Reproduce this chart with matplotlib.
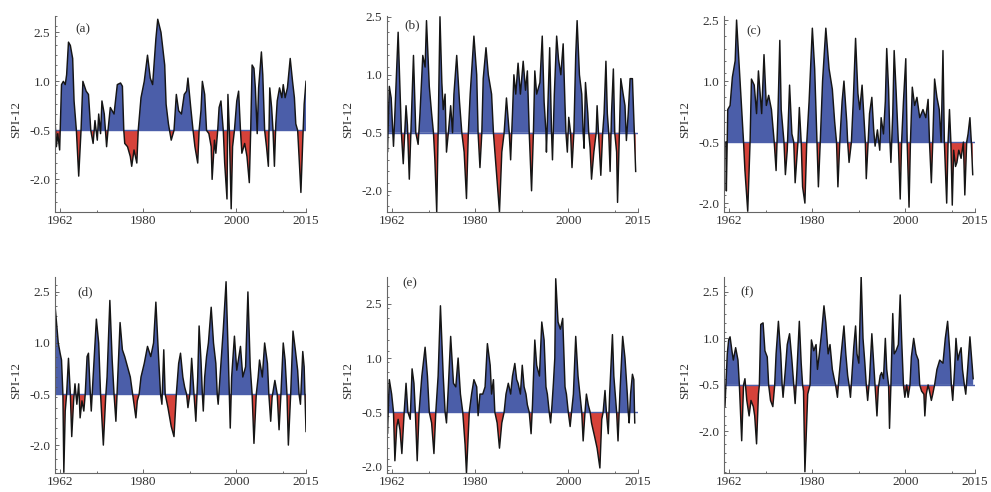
import numpy as np
import matplotlib
matplotlib.use("Agg")
import matplotlib.pyplot as plt
from matplotlib.ticker import MultipleLocator

plt.rcParams['font.family'] = ['Liberation Serif', 'DejaVu Serif']

# SPI-12 series (turning points)
a_years = [1961.0, 1961.3, 1961.6, 1962.0, 1962.4, 1962.8, 1963.2, 1963.5, 1963.9, 1964.3, 1964.8, 1965.1, 1965.6, 1966.1, 1966.6, 1967.0, 1967.7, 1968.2, 1968.7, 1969.2, 1969.6, 1970.1, 1970.4, 1970.8, 1971.1, 1971.6, 1972.1, 1972.4, 1972.9, 1973.7, 1974.4, 1975.1, 1975.5, 1975.8, 1976.0, 1976.6, 1977.2, 1977.5, 1978.0, 1978.6, 1978.9, 1979.5, 1980.2, 1980.9, 1981.5, 1982.0, 1982.7, 1983.1, 1983.8, 1984.6, 1984.9, 1985.4, 1986.0, 1986.6, 1987.1, 1987.6, 1988.2, 1988.8, 1989.3, 1989.6, 1990.2, 1990.7, 1991.1, 1991.7, 1992.0, 1992.4, 1992.7, 1993.2, 1993.6, 1994.1, 1994.6, 1994.8, 1995.3, 1995.6, 1996.0, 1996.3, 1996.7, 1997.2, 1997.5, 1998.0, 1998.2, 1998.5, 1998.9, 1999.2, 1999.6, 2000.1, 2000.5, 2000.9, 2001.2, 2001.8, 2002.3, 2002.8, 2003.1, 2003.4, 2003.8, 2004.1, 2004.5, 2004.8, 2005.4, 2005.7, 2006.1, 2006.5, 2006.9, 2007.2, 2007.6, 2007.9, 2008.2, 2008.5, 2008.8, 2009.3, 2009.8, 2010.1, 2010.5, 2011.0, 2011.6, 2012.1, 2012.5, 2012.8, 2013.2, 2013.5, 2013.9, 2014.3, 2014.6, 2015.0]
a_vals = [-0.2, -1.0, -0.6, -1.1, 0.9, 1.0, 0.9, 1.2, 2.2, 2.1, 1.7, 0.4, -0.5, -1.9, -0.5, 1.0, 0.7, 0.6, -0.5, -0.9, -0.2, -0.8, 0.0, -0.6, 0.4, 0.0, -1.0, -0.5, 0.2, 0.0, 0.9, 0.95, 0.85, -0.5, -0.9, -1.0, -1.3, -1.6, -1.1, -1.5, -0.5, 0.5, 1.0, 1.8, 1.1, 0.9, 2.3, 2.9, 2.5, 1.5, 0.3, -0.3, -0.8, -0.5, 0.6, 0.1, 0.0, 0.6, 0.7, 1.1, 0.2, -0.5, -1.0, -1.5, -0.5, 0.1, 1.0, 0.6, -0.5, -0.6, -1.0, -2.0, -0.8, -1.2, -0.5, 0.2, 0.4, -0.5, -1.5, -2.6, 0.6, -0.5, -2.9, -1.0, -0.5, 0.4, 0.7, -0.5, -1.2, -0.9, -1.3, -2.1, -0.5, 1.5, 1.4, 0.8, -0.6, 0.8, 1.9, 1.2, -0.5, -1.0, -1.6, 0.8, 0.2, -0.5, -1.6, -0.3, 0.4, 0.8, 0.5, 0.9, 0.5, 0.8, 1.7, 1.0, 0.5, -0.3, -0.5, -1.3, -2.4, -0.8, 0.3, 1.0]

b_years = [1961.0, 1961.1, 1961.5, 1961.9, 1962.4, 1962.7, 1963.4, 1964.1, 1964.5, 1965.1, 1965.4, 1965.8, 1966.7, 1967.2, 1967.7, 1968.1, 1968.7, 1969.2, 1969.5, 1970.1, 1970.6, 1971.0, 1971.3, 1971.7, 1972.0, 1972.4, 1972.8, 1973.1, 1973.5, 1973.8, 1974.2, 1974.7, 1975.1, 1975.4, 1976.0, 1976.6, 1977.1, 1977.6, 1978.1, 1978.5, 1978.9, 1979.7, 1980.3, 1980.6, 1981.0, 1981.4, 1981.7, 1982.3, 1982.8, 1983.5, 1983.9, 1984.4, 1985.2, 1985.7, 1986.2, 1986.7, 1987.3, 1987.6, 1988.0, 1988.3, 1988.7, 1989.2, 1989.7, 1990.3, 1990.8, 1991.2, 1991.6, 1992.1, 1992.5, 1992.8, 1993.2, 1993.9, 1994.4, 1994.8, 1995.2, 1995.3, 1995.7, 1996.0, 1996.4, 1996.6, 1997.0, 1997.5, 1997.9, 1998.4, 1998.9, 1999.3, 1999.5, 1999.8, 2000.1, 2000.5, 2000.8, 2001.2, 2001.6, 2001.9, 2002.4, 2002.9, 2003.2, 2003.4, 2003.7, 2004.2, 2004.4, 2004.7, 2005.0, 2005.5, 2006.0, 2006.2, 2006.5, 2007.0, 2007.4, 2007.7, 2008.1, 2008.4, 2008.7, 2009.0, 2009.3, 2009.7, 2010.0, 2010.4, 2010.6, 2011.0, 2011.3, 2011.8, 2012.2, 2012.5, 2012.9, 2013.3, 2013.8, 2014.2, 2014.5]
b_vals = [-0.5, -1.0, 0.7, 0.4, -0.85, 0.0, 2.1, -0.5, -1.3, 0.2, -0.3, -1.7, 1.5, -0.5, -0.8, 0.0, 1.5, 1.2, 2.4, 0.7, 0.0, -0.5, -1.2, -2.55, -0.5, 2.5, 0.8, 0.1, 0.5, -1.0, -0.5, 0.2, -0.5, 0.5, 1.5, 0.3, -0.5, -1.0, -2.2, -0.5, 0.5, 2.0, 1.0, -0.5, -1.4, -0.5, 0.9, 1.7, 1.0, 0.5, -0.5, -1.3, -2.55, -1.0, -0.5, 0.4, -0.5, -1.2, 0.0, 1.0, 0.5, 1.3, 0.5, 1.35, 0.6, 1.1, -0.5, -2.0, -0.5, 1.1, 0.5, 0.8, 2.0, 0.3, -0.5, -1.0, 0.5, 1.7, -0.5, -1.2, 0.5, 2.0, 1.4, 1.0, 1.8, 0.2, -0.5, -1.0, -0.1, -0.5, -1.4, -0.5, 1.5, 2.4, 1.0, 0.5, -0.5, -0.9, 0.8, 0.0, -0.5, -0.9, -1.7, -1.0, -0.5, 0.2, -0.5, -1.6, -0.5, 0.0, 1.35, 0.0, -0.5, -1.5, 0.0, 1.15, -0.5, -1.0, -2.3, -0.5, 0.9, 0.5, 0.2, -0.7, 0.0, 0.9, 0.9, -0.5, -1.5]

c_years = [1961.4, 1961.5, 1961.8, 1962.3, 1962.8, 1963.4, 1963.7, 1964.2, 1964.7, 1965.2, 1965.5, 1966.1, 1966.6, 1966.9, 1967.5, 1968.0, 1968.4, 1969.1, 1969.6, 1970.1, 1970.6, 1971.2, 1971.8, 1972.2, 1972.6, 1973.0, 1973.3, 1973.9, 1974.2, 1974.6, 1975.1, 1975.6, 1976.0, 1976.3, 1976.9, 1977.2, 1977.6, 1977.9, 1978.4, 1978.8, 1979.3, 1980.0, 1980.5, 1981.0, 1981.3, 1981.7, 1982.2, 1982.9, 1983.6, 1984.3, 1984.8, 1985.2, 1985.5, 1985.9, 1986.4, 1986.8, 1987.4, 1987.6, 1987.9, 1988.4, 1988.8, 1989.3, 1989.8, 1990.2, 1990.7, 1991.0, 1991.4, 1991.6, 1992.0, 1992.3, 1992.8, 1993.2, 1993.5, 1994.0, 1994.5, 1994.8, 1995.3, 1995.7, 1996.0, 1996.4, 1996.7, 1996.9, 1997.3, 1997.6, 1998.0, 1998.5, 1998.9, 1999.2, 1999.6, 2000.1, 2000.4, 2000.8, 2001.1, 2001.5, 2002.0, 2002.5, 2003.1, 2003.8, 2004.4, 2004.9, 2005.2, 2005.6, 2005.9, 2006.3, 2006.8, 2007.3, 2007.7, 2008.1, 2008.4, 2008.9, 2009.2, 2009.5, 2009.8, 2010.1, 2010.4, 2010.8, 2011.1, 2011.5, 2012.0, 2012.5, 2012.8, 2013.2, 2013.5, 2013.9, 2014.2, 2014.5]
c_vals = [-0.5, -1.7, 0.3, 0.4, 1.1, 1.5, 2.5, 1.5, 0.5, -0.5, -1.2, -2.2, -0.5, 1.05, 0.9, 0.2, 1.25, 0.2, 1.65, 0.4, 0.65, 0.3, -0.5, -1.2, 0.2, 2.0, 0.3, -0.5, -1.3, -0.7, 0.9, -0.3, -0.5, -1.5, -0.5, 0.35, -0.5, -1.6, -2.0, -0.5, 0.5, 2.3, 1.3, -0.5, -1.6, -0.5, 1.0, 2.3, 1.3, 0.8, 0.0, -0.5, -1.6, -0.5, 0.5, 1.0, 0.0, -0.5, -1.0, -0.5, 0.5, 2.05, 0.7, 0.3, 0.9, 0.3, -0.5, -1.4, -0.5, 0.2, 0.6, -0.2, -0.6, -0.2, -0.7, 0.1, -0.3, 0.5, 1.8, 0.8, -0.5, -1.0, 0.2, 1.75, 0.8, -0.5, -1.9, -0.5, 0.5, 1.55, -0.5, -2.1, -0.5, 0.85, 0.4, 0.6, 0.1, 0.3, 0.1, 0.55, -0.5, -1.5, -0.5, 1.05, 0.6, 0.3, -0.5, 1.75, -0.5, -2.0, -0.5, 0.3, -0.5, -2.05, -0.7, -1.1, -1.0, -0.7, -0.9, -0.5, -1.8, -0.5, -0.3, 0.1, -0.5, -1.3]

d_years = [1961.0, 1961.2, 1961.7, 1962.1, 1962.4, 1962.7, 1962.9, 1963.2, 1963.5, 1963.9, 1964.3, 1964.6, 1965.0, 1965.3, 1965.7, 1966.1, 1966.4, 1966.8, 1967.2, 1967.5, 1967.9, 1968.2, 1968.6, 1968.8, 1969.2, 1969.9, 1970.4, 1970.8, 1971.4, 1971.9, 1972.2, 1972.8, 1973.3, 1973.7, 1974.1, 1974.5, 1975.0, 1975.5, 1976.0, 1976.6, 1977.2, 1977.7, 1978.4, 1978.7, 1979.1, 1979.5, 1980.2, 1980.9, 1981.6, 1982.2, 1982.7, 1983.2, 1983.7, 1984.0, 1984.4, 1984.7, 1985.3, 1986.0, 1986.6, 1987.1, 1987.6, 1988.0, 1988.5, 1988.9, 1989.3, 1989.6, 1990.0, 1990.4, 1990.9, 1991.3, 1991.7, 1992.0, 1992.4, 1992.7, 1992.9, 1993.2, 1993.6, 1994.0, 1994.6, 1995.1, 1995.6, 1995.9, 1996.1, 1996.5, 1997.2, 1997.8, 1998.3, 1998.7, 1999.0, 1999.6, 2000.1, 2000.9, 2001.4, 2002.0, 2002.5, 2003.0, 2003.4, 2003.8, 2004.3, 2004.7, 2005.0, 2005.6, 2006.1, 2006.7, 2007.0, 2007.4, 2007.7, 2008.3, 2008.8, 2009.2, 2009.6, 2010.1, 2010.5, 2010.9, 2011.2, 2011.7, 2012.2, 2012.7, 2013.2, 2013.5, 2013.8, 2014.3, 2014.6, 2015.0]
d_vals = [2.1, 1.8, 1.0, 0.7, 0.5, -0.5, -2.8, -1.0, -0.5, 0.55, -0.5, -1.75, -0.7, -0.2, -0.8, -0.2, -1.2, -0.7, -1.0, -0.5, 0.6, 0.7, -0.5, -1.0, 0.0, 1.7, 1.0, -0.5, -2.0, -0.6, 0.0, 2.25, 0.5, -0.5, -1.3, 0.0, 1.6, 0.8, 0.6, 0.3, 0.0, -0.5, -1.2, -0.7, -0.5, 0.0, 0.4, 0.9, 0.6, 1.0, 2.2, 0.8, -0.5, -0.8, 0.8, -0.5, -0.9, -1.45, -1.75, -0.5, 0.4, 0.7, 0.0, -0.3, -0.5, -0.9, -0.5, 0.55, -0.5, -1.3, 0.0, 1.5, 0.5, -0.5, -1.0, 0.0, 0.6, 1.0, 2.05, 1.0, 0.4, -0.5, -0.8, 0.0, 1.4, 2.8, 0.5, -1.5, 0.0, 1.2, 0.2, 0.9, 0.0, 0.3, 2.5, 0.3, -0.5, -1.95, -0.5, 0.0, 0.5, 0.0, 1.0, 0.4, -0.5, -1.3, -0.6, -0.1, -0.5, -1.55, -0.5, 1.0, 0.5, -0.5, -2.0, -0.5, 1.35, 0.8, 0.2, -0.5, -0.8, 0.75, 0.3, -1.6]

e_years = [1961.0, 1961.1, 1961.5, 1962.0, 1962.4, 1962.7, 1963.1, 1963.4, 1963.8, 1964.2, 1964.7, 1965.1, 1965.5, 1966.0, 1966.4, 1966.8, 1967.1, 1967.5, 1967.9, 1968.5, 1969.2, 1969.7, 1970.1, 1970.6, 1971.1, 1971.5, 1972.0, 1972.5, 1973.1, 1973.5, 1973.8, 1974.2, 1974.7, 1975.3, 1975.8, 1976.3, 1976.8, 1977.3, 1977.8, 1978.1, 1978.7, 1979.2, 1979.7, 1980.3, 1980.6, 1981.0, 1981.6, 1982.1, 1982.6, 1983.2, 1983.5, 1983.9, 1984.2, 1984.7, 1985.2, 1985.7, 1986.2, 1986.6, 1987.1, 1987.6, 1988.0, 1988.5, 1988.9, 1989.2, 1989.7, 1990.1, 1990.5, 1990.9, 1991.2, 1991.6, 1992.0, 1992.3, 1992.8, 1993.2, 1993.8, 1994.3, 1994.8, 1995.2, 1995.5, 1995.9, 1996.2, 1996.5, 1996.8, 1997.1, 1997.3, 1997.8, 1998.3, 1998.8, 1999.3, 1999.6, 2000.0, 2000.4, 2000.7, 2001.1, 2001.6, 2002.1, 2002.5, 2002.9, 2003.2, 2003.6, 2003.9, 2004.3, 2004.7, 2005.0, 2005.7, 2006.2, 2006.8, 2007.2, 2007.5, 2007.9, 2008.2, 2008.6, 2008.9, 2009.5, 2009.8, 2010.4, 2010.7, 2011.1, 2011.7, 2012.2, 2012.7, 2012.9, 2013.1, 2013.4, 2013.8, 2014.1, 2014.3]
e_vals = [-0.5, -1.1, 0.4, 0.0, -0.5, -1.85, -0.9, -0.7, -1.0, -1.65, -0.5, 0.3, -0.5, -0.7, 0.7, 0.3, -0.5, -1.85, -0.5, 0.5, 1.3, 0.5, -0.5, -0.8, -1.65, -0.5, 0.5, 2.45, 0.5, -0.5, -0.8, 0.2, 1.6, 0.3, 0.2, 1.0, 0.0, -0.5, -1.4, -2.2, -0.5, 0.0, 0.4, 0.2, -0.6, 0.0, 0.0, 0.2, 1.4, 0.8, 0.0, 0.4, -0.5, -0.8, -1.5, -0.8, -0.5, 0.0, 0.3, 0.0, 0.5, 0.85, 0.4, 0.3, 0.0, 0.8, 0.2, 0.0, -0.3, -0.5, -1.1, -0.3, 1.5, 0.8, 0.5, 2.0, 1.5, 0.2, 0.0, -0.5, -0.8, -0.3, 0.3, 1.0, 3.2, 2.0, 1.8, 2.1, 0.2, 0.0, -0.5, -0.9, -0.5, 0.0, 1.6, 0.5, 0.0, -0.5, -1.3, -0.5, 0.0, -0.3, -0.5, -0.8, -1.2, -1.5, -2.05, -0.7, -0.5, 0.1, -0.5, -1.1, 0.0, 1.65, 0.5, -0.5, -1.3, 0.0, 1.6, 1.0, 0.0, -0.5, -0.8, 0.0, 0.55, 0.4, -0.8]

f_years = [1961.0, 1961.2, 1961.7, 1962.0, 1962.3, 1962.7, 1963.0, 1963.5, 1964.0, 1964.3, 1964.5, 1964.8, 1965.2, 1965.5, 1965.9, 1966.4, 1966.8, 1967.3, 1967.6, 1968.0, 1968.4, 1968.6, 1968.9, 1969.4, 1969.8, 1970.3, 1970.6, 1971.0, 1971.5, 1971.9, 1972.2, 1972.7, 1973.2, 1973.5, 1973.7, 1974.2, 1974.6, 1975.1, 1975.6, 1976.0, 1976.3, 1976.7, 1977.2, 1977.6, 1977.9, 1978.1, 1978.4, 1979.0, 1979.5, 1979.8, 1980.3, 1980.8, 1981.1, 1981.5, 1982.0, 1982.5, 1982.9, 1983.4, 1983.8, 1984.3, 1984.7, 1985.0, 1985.4, 1985.7, 1986.2, 1986.8, 1987.2, 1987.6, 1987.9, 1988.2, 1988.6, 1988.9, 1989.3, 1989.6, 1990.0, 1990.5, 1990.9, 1991.3, 1991.6, 1991.9, 1992.3, 1992.8, 1993.2, 1993.5, 1993.9, 1994.2, 1994.6, 1994.9, 1995.3, 1995.7, 1996.0, 1996.4, 1996.6, 1996.9, 1997.3, 1997.6, 1998.0, 1998.5, 1998.9, 1999.2, 1999.6, 1999.9, 2000.3, 2000.6, 2001.0, 2001.3, 2001.8, 2002.3, 2002.8, 2003.1, 2003.5, 2004.0, 2004.2, 2004.5, 2004.9, 2005.2, 2005.6, 2005.9, 2006.3, 2006.8, 2007.4, 2008.1, 2008.6, 2009.1, 2009.6, 2009.9, 2010.2, 2010.6, 2010.9, 2011.3, 2011.6, 2012.0, 2012.3, 2012.7, 2013.0, 2013.4, 2013.9, 2014.3, 2014.6]
f_vals = [-0.5, -1.2, 0.5, 0.95, 1.05, 0.6, 0.3, 0.7, 0.3, -0.5, -1.2, -2.3, -0.5, -0.3, -1.0, -1.5, -1.0, -1.2, -1.5, -2.4, -0.8, -0.5, 1.45, 1.5, 0.6, 0.4, -0.5, -1.0, -1.2, -0.5, 0.5, 1.55, 0.5, -0.5, -0.9, 0.0, 0.8, 1.15, 0.3, -0.5, -1.1, 0.0, 1.55, 0.2, -0.5, -0.7, -3.3, -0.8, -0.5, 0.95, 0.6, 0.8, 0.0, 0.5, 1.2, 2.05, 1.5, 0.5, 0.8, 0.0, -0.3, -0.5, -0.9, -0.3, 0.5, 1.4, 0.5, -0.2, -0.5, -0.9, 0.0, 0.7, 1.4, 0.5, 0.2, 3.0, 1.0, 0.2, -0.5, -1.0, -0.3, 1.15, 0.2, -0.5, -1.5, -0.6, -0.2, -0.1, -0.3, 1.0, 0.0, -0.5, -1.9, -0.5, 1.8, 0.5, 0.6, 0.8, 2.4, 1.0, -0.5, -0.9, -0.5, -0.9, -0.5, 0.4, 1.0, 0.5, 0.3, -0.5, -0.7, -0.8, -1.5, -0.8, -0.5, -0.7, -1.0, -0.8, -0.5, 0.0, 0.3, 0.2, 1.0, 1.55, 0.5, -0.5, -1.0, 0.0, 1.0, 0.3, 0.5, 0.7, 0.0, -0.5, -0.8, 0.0, 1.05, 0.3, -0.3]

panel_labels = ['(a)', '(b)', '(c)', '(d)', '(e)', '(f)']
y_ticks = [2.5, 1.0, -0.5, -2.0]
x_ticks = [1962, 1980, 2000, 2015]
base = -0.5

series = [(a_years, a_vals), (b_years, b_vals), (c_years, c_vals),
          (d_years, d_vals), (e_years, e_vals), (f_years, f_vals)]
ylims = [(-3.0, 3.0), (-2.55, 2.52), (-2.22, 2.6),
         (-2.82, 2.94), (-2.19, 3.25), (-3.34, 2.98)]
lefts = [0.0555, 0.3905, 0.7306]
bottoms = [0.569, 0.0386]
lab_pos = [(0.08, 0.93), (0.07, 0.955), (0.09, 0.92),
           (0.09, 0.92), (0.06, 0.97), (0.065, 0.92)]

blue = '#4b5ea9'
red = '#d6423a'

fig = plt.figure(figsize=(9.91, 4.92), dpi=100)

for i, ((yrs, vals), lab) in enumerate(zip(series, panel_labels)):
    ax = fig.add_axes([lefts[i % 3], bottoms[i // 3], 0.2533, 0.3985])
    yrs = np.array(yrs)
    vals = np.array(vals)
    ax.fill_between(yrs, base, vals, where=vals >= base, interpolate=True,
                    color=blue, lw=0)
    ax.fill_between(yrs, base, vals, where=vals <= base, interpolate=True,
                    color=red, lw=0)
    ax.axhline(base, color=blue, lw=1.0)
    ax.plot(yrs, vals, color='#151515', lw=1.05)

    ax.set_xlim(1961, 2015)
    ax.set_ylim(*ylims[i])
    ax.set_xticks(x_ticks)
    ax.set_xticklabels([str(t) for t in x_ticks])
    ax.xaxis.set_minor_locator(plt.FixedLocator([1970, 1990, 2010]))
    ax.set_yticks(y_ticks)
    ax.set_yticklabels(['2.5', '1.0', '-0.5', '-2.0'])
    ax.yaxis.set_minor_locator(MultipleLocator(0.3))
    ax.tick_params(which='both', direction='in', colors='#555555',
                   labelcolor='#333333', labelsize=9.5, width=0.6)
    ax.tick_params(which='major', length=3)
    ax.tick_params(which='minor', length=1.5)
    ax.tick_params(axis='x', pad=2)

    for s in ['top', 'right']:
        ax.spines[s].set_visible(False)
    for s in ['left', 'bottom']:
        ax.spines[s].set_color('#666666')
        ax.spines[s].set_linewidth(0.8)

    ax.set_ylabel('SPI-12', fontsize=9.5, color='#333333')
    ax.yaxis.set_label_coords(-0.13, 0.47)
    ax.text(lab_pos[i][0], lab_pos[i][1], lab, transform=ax.transAxes,
            fontsize=9.5, color='#333333', va='center', ha='left')

fig.savefig('out.png', dpi=100)
